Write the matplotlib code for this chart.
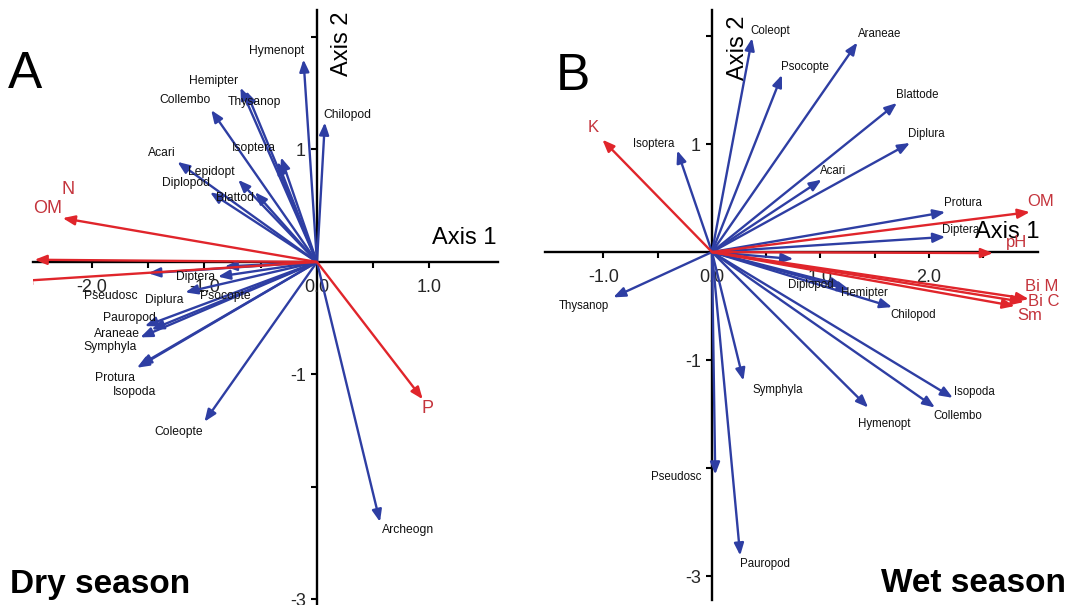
import matplotlib
matplotlib.use("Agg")
import matplotlib.pyplot as plt
from matplotlib.patches import FancyArrowPatch
from matplotlib.ticker import FixedLocator, FixedFormatter

plt.rcParams['font.family'] = ['Liberation Sans', 'DejaVu Sans']

# ---------------- Data: Dry season (A) ----------------
dry_taxa = ["Hymenopt", "Chilopod", "Hemipter", "Thysanop", "Collembo", "Isoptera", "",
            "Acari", "Lepidopt", "Diplopod", "Blattod", "Pseudosc", "Diptera", "Psocopte",
            "Diplura", "Pauropod", "Araneae", "Symphyla", "Protura", "Isopoda",
            "Coleopte", "Archeogn"]
dry_x = [-0.12, 0.07, -0.68, -0.63, -0.94, -0.32, -0.35,
         -1.24, -0.70, -0.95, -0.55, -1.50, -0.88, -0.82,
         -1.17, -1.53, -1.47, -1.57, -1.60, -1.58,
         -1.00, 0.56]
dry_y = [1.80, 1.24, 1.55, 1.52, 1.35, 0.93, 0.89,
         0.89, 0.73, 0.62, 0.62, -0.10, -0.13, -0.04,
         -0.27, -0.57, -0.60, -0.67, -0.94, -0.92,
         -1.42, -2.31]
dry_env = ["OM", "N", "", "P"]
dry_env_x = [-2.26, -2.51, -2.65, 0.94]
dry_env_y = [0.39, 0.02, -0.17, -1.22]

# ---------------- Data: Wet season (B) ----------------
wet_taxa = ["Coleopt", "Psocopte", "Araneae", "Blattode", "Diplura", "Acari", "Protura",
            "Diptera", "Isoptera", "Thysanop", "", "Diplopod", "Hemipter", "Chilopod",
            "Isopoda", "Collembo", "Hymenopt", "Symphyla", "Pseudosc", "Pauropod"]
wet_x = [0.37, 0.645, 1.34, 1.705, 1.825, 1.01, 2.15,
         2.15, -0.32, -0.91, 0.75, 1.21, 1.27, 1.66,
         2.22, 2.055, 1.44, 0.29, 0.03, 0.26]
wet_y = [1.98, 1.64, 1.94, 1.38, 1.01, 0.67, 0.37,
         0.14, 0.94, -0.42, -0.065, -0.31, -0.35, -0.51,
         -1.35, -1.44, -1.44, -1.19, -2.06, -2.81]
wet_env = ["K", "OM", "pH", "Bi M", "Bi C", "Sm"]
wet_env_x = [-1.01, 2.93, 2.59, 2.92, 2.875, 2.79]
wet_env_y = [1.04, 0.37, -0.01, -0.435, -0.463, -0.50]

# label offsets (pixels, from arrow tip to label centre)
dry_off = {"Hymenopt": (-27, 8), "Chilopod": (23, 7), "Hemipter": (-27, 7), "Thysanop": (8, -11),
           "Collembo": (-26, 10), "Isoptera": (-27, 9), "Acari": (-16, 9), "Lepidopt": (-27, 8),
           "Diplopod": (-24, 9), "Blattod": (-20, -6), "Pseudosc": (-37, -23), "Diptera": (-22, 0),
           "Psocopte": (1, -30), "Diplura": (-21, -8), "Pauropod": (-15, 8), "Araneae": (-35, -5),
           "Symphyla": (-30, -10), "Protura": (-22, -10), "Isopoda": (-5, -27),
           "Coleopte": (-26, -10), "Archeogn": (28, -8)}
dry_env_off = {"OM": (-15, 10), "N": (33, 70), "P": (5, -9)}
wet_off = {"Coleopt": (18, 7), "Psocopte": (23, 8), "Araneae": (22, 9), "Blattode": (20, 8),
           "Diplura": (16, 9), "Acari": (12, 9), "Protura": (18, 9), "Diptera": (15, 7),
           "Isoptera": (-24, 7), "Thysanop": (-29, -9), "Diplopod": (-32, 1), "Hemipter": (15, -3),
           "Chilopod": (21, -8), "Isopoda": (22, 6), "Collembo": (23, -8), "Hymenopt": (16, -16),
           "Symphyla": (34, -9), "Pseudosc": (-39, -2), "Pauropod": (25, -8)}
wet_env_off = {"K": (-9, 12), "OM": (11, 11), "pH": (24, 11), "Bi M": (13, 13),
               "Bi C": (20, 1), "Sm": (15, -9)}

BLUE = "#2e3ea3"
RED = "#e0252b"
RED_TXT = "#c4343c"
W, H = 1073, 605

fig = plt.figure(figsize=(W / 100, H / 100), dpi=100)


def make_axes(px_left, px_right, px_top, px_bottom, xlim, ylim):
    ax = fig.add_axes([px_left / W, 1 - px_bottom / H, (px_right - px_left) / W,
                       (px_bottom - px_top) / H])
    ax.set_xlim(*xlim)
    ax.set_ylim(*ylim)
    ax.patch.set_alpha(0)
    for s in ["top", "right"]:
        ax.spines[s].set_visible(False)
    for s in ["left", "bottom"]:
        ax.spines[s].set_position(("data", 0))
        ax.spines[s].set_linewidth(1.7)
        ax.spines[s].set_zorder(1)
    ax.tick_params(direction="out", length=4, width=1.5, labelsize=13,
                   labelcolor="#262626")
    ax.tick_params(axis="x", pad=8)
    ax.tick_params(axis="y", pad=4)
    return ax


def draw(ax, names, xs, ys, offs, color, tcolor, fs):
    for n, x, y in zip(names, xs, ys):
        ax.add_patch(FancyArrowPatch((0, 0), (x, y),
                                     arrowstyle="-|>,head_length=0.55,head_width=0.22",
                                     mutation_scale=13, lw=1.7, color=color,
                                     shrinkA=0, shrinkB=0, zorder=3))
        if n:
            ax.annotate(n, xy=(x, y), xytext=offs[n], textcoords="offset pixels",
                        ha="center", va="center", fontsize=fs, color=tcolor,
                        annotation_clip=False, zorder=4)


# ---------------- Panel A ----------------
axA = make_axes(33, 498, 10, 605, (-2.524, 1.609), (-3.049, 2.24))
axA.xaxis.set_major_locator(FixedLocator([-2, -1.5, -1, -0.5, 0, 0.5, 1.0]))
axA.xaxis.set_major_formatter(FixedFormatter(["-2.0", "", "-1.0", "", "0.0", "", "1.0"]))
axA.yaxis.set_major_locator(FixedLocator([2, 1, -1, -2, -3]))
axA.yaxis.set_major_formatter(FixedFormatter(["", "1", "-1", "", "-3"]))
draw(axA, dry_taxa, dry_x, dry_y, dry_off, BLUE, "#111111", 8.7)
draw(axA, dry_env, dry_env_x, dry_env_y, dry_env_off, RED, RED_TXT, 13)
axA.text(1.31, 0.21, "Axis 1", fontsize=17, ha="center", va="center")
axA.text(0.222, 1.94, "Axis 2", fontsize=17, ha="center", va="center", rotation=90)

# ---------------- Panel B ----------------
axB = make_axes(545, 1038, 10, 600, (-1.539, 3.005), (-3.222, 2.241))
axB.xaxis.set_major_locator(FixedLocator([-1, -0.5, 0, 0.5, 1, 1.5, 2, 2.5]))
axB.xaxis.set_major_formatter(FixedFormatter(["-1.0", "", "0.0", "", "1.0", "", "2.0", ""]))
axB.yaxis.set_major_locator(FixedLocator([2, 1, -1, -2, -3]))
axB.yaxis.set_major_formatter(FixedFormatter(["", "1", "-1", "", "-3"]))
draw(axB, wet_taxa, wet_x, wet_y, wet_off, BLUE, "#111111", 8.3)
draw(axB, wet_env, wet_env_x, wet_env_y, wet_env_off, RED, RED_TXT, 12)
axB.text(2.72, 0.19, "Axis 1", fontsize=17, ha="center", va="center")
axB.text(0.24, 1.89, "Axis 2", fontsize=17, ha="center", va="center", rotation=90)

# ---------------- Panel letters & titles ----------------
fig.text(25 / W, 1 - 74 / H, "A", fontsize=37, ha="center", va="center")
fig.text(573 / W, 1 - 76 / H, "B", fontsize=37, ha="center", va="center")
fig.text(10 / W, 1 - 584 / H, "Dry season", fontsize=24, fontweight="bold",
         ha="left", va="center")
fig.text(1066 / W, 1 - 584 / H, "Wet season", fontsize=24, fontweight="bold",
         ha="right", va="center")

fig.savefig("out.png", dpi=100)
